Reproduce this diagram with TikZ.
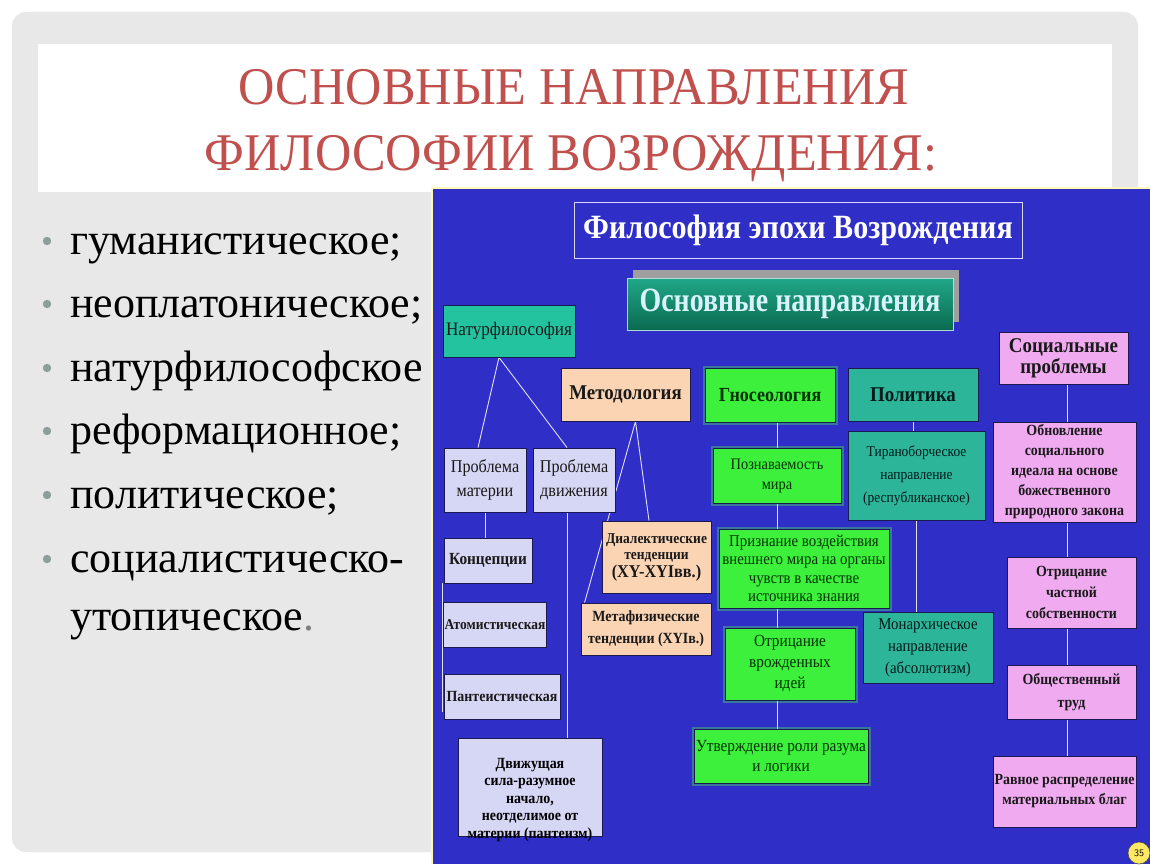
\documentclass[tikz,border=0pt]{standalone}
\usepackage{fontspec}
\setmainfont{Liberation Serif}
\newfontfamily\dgf[FakeStretch=0.9]{Liberation Serif}
\newfontfamily\ttlf[FakeStretch=0.95]{Liberation Serif}
\newfontfamily\hdf[FakeStretch=0.885]{Liberation Serif}
\newfontfamily\osf[FakeStretch=0.82]{Liberation Serif}
\usetikzlibrary{calc}
\definecolor{slidegray}{HTML}{E8E8E8}
\definecolor{titlered}{HTML}{C0504D}
\definecolor{panelblue}{HTML}{2F2FC8}
\definecolor{tealA}{HTML}{23C3A0}
\definecolor{tealB}{HTML}{2DB59A}
\definecolor{tealTop}{HTML}{20A888}
\definecolor{tealBot}{HTML}{0B6A50}
\definecolor{greenA}{HTML}{3CF03C}
\definecolor{peach}{HTML}{FBD4B4}
\definecolor{lav}{HTML}{D6D6F5}
\definecolor{pinkA}{HTML}{F0AAF0}
\definecolor{boxline}{HTML}{1A1A50}
\definecolor{bulletgray}{HTML}{8E9C9C}
\pgfdeclarelayer{back}
\pgfdeclarelayer{links}
\pgfsetlayers{back,links,main}
\newcommand\makenode[7][]{%
  \node[box,#1,minimum width={#5-#3},minimum height={#6-#4}] (#2) at ({(#3+#5)/2},{(#4+#6)/2}) {#7};}
\tikzset{
  box/.style={draw=boxline, line width=0.9pt, inner sep=1pt, align=center, text=black!90},
  tealbox/.style={fill=tealA},
  polbox/.style={fill=tealB, text=black!80!teal},
  grbox/.style={fill=greenA, text=black!80!green,
    preaction={draw=green!70!white, draw opacity=0.35, line width=5pt}},
  pebox/.style={fill=peach},
  lvbox/.style={fill=lav},
  pkbox/.style={fill=pinkA},
  conn/.style={draw=white!88!blue, line width=0.9pt},
  bul/.style={anchor=base west, inner sep=0, font=\fontsize{44}{48}\selectfont, text=black},
  fs/.style 2 args={font=\dgf\fontsize{#1}{#2}\selectfont},
  fb/.style 2 args={font=\dgf\bfseries\fontsize{#1}{#2}\selectfont},
}
\begin{document}
\begin{tikzpicture}[x=1pt,y=-1pt]
\useasboundingbox (0,0) rectangle (1150,864);
\begin{pgfonlayer}{back}
\fill[white] (0,0) rectangle (1150,864);
\fill[slidegray, rounded corners=14pt] (12,12) rectangle (1138,852);
\fill[white] (38,44) rectangle (1112,192);
\fill[panelblue] (432,188) rectangle (1150,864);
\draw[color=white!70!yellow, line width=1.2pt] (432,864) -- (432,188) -- (1150,188);
\end{pgfonlayer}

% title
\node[text=titlered, font=\ttlf\fontsize{53}{60}\selectfont, inner sep=0, anchor=base] (t1) at (574,105) {ОСНОВНЫЕ НАПРАВЛЕНИЯ};
\node[text=titlered, font=\ttlf\fontsize{53}{60}\selectfont, inner sep=0, anchor=base] (t2) at (571,170) {ФИЛОСОФИИ ВОЗРОЖДЕНИЯ:};

% bullets
\foreach \y/\t [count=\i] in {254/гуманистическое;, 317/неоплатоническое;, 381/натурфилософское, 444/реформационное;, 508/политическое;, 572/социалистическо-}{
  \fill[bulletgray] (47,\y-13) circle (4.2);
  \node[bul] (b\i) at (70,\y) {\t};
}
\node[bul] (b7) at (70,630) {утопическое\textcolor{gray}{.}};

% diagram header
\node[draw=white!85!blue, line width=0.9pt, fill=panelblue, minimum width=448, minimum height=56, inner sep=0,
  text=white, font=\hdf\bfseries\fontsize{34}{38}\selectfont] (phil) at (798,230) {Философия эпохи Возрождения};
\fill[gray!75] (633,270) rectangle (959,322);
\node[draw=white!70!teal, line width=0.8pt, top color=tealTop, bottom color=tealBot, minimum width=326, minimum height=52, inner sep=0,
  text=white!85!cyan, font=\osf\bfseries\fontsize{34}{38}\selectfont] (osn) at (790,304) {Основные направления};

% first row
\makenode[tealbox,fs={19}{22}]{natur}{443}{305}{575}{357}{Натурфилософия}
\makenode[pebox,fb={21}{24}]{metod}{561}{368}{690}{421}{Методология}
\makenode[grbox,fb={20}{24}]{gnos}{705}{368}{835}{422}{Гносеология}
\makenode[polbox,fb={21}{24}]{polit}{848}{368}{978}{421}{Политика}
\makenode[pkbox,fb={21}{21}]{soc}{999}{332}{1128}{384}{Социальные\\проблемы}

% natural philosophy
\makenode[lvbox,fs={18}{24}]{pmat}{444}{448}{526}{512}{Проблема\\материи}
\makenode[lvbox,fs={18}{24}]{pdv}{533}{448}{615}{512}{Проблема\\движения}
\makenode[lvbox,fb={17}{20}]{konc}{444}{538}{532}{583}{Концепции}
\makenode[lvbox,fb={15}{18}]{atom}{444}{602}{546}{647}{Атомистическая}
\makenode[lvbox,fb={15.5}{18}]{pant}{444}{674}{560}{719}{Пантеистическая}
\makenode[lvbox]{dvij}{458}{738}{602}{836}{}
\node[fb={15.5}{17.5}, align=center, inner sep=0] (dvijt) at ([yshift=-13]dvij.center) {Движущая\\сила-разумное\\начало,\\неотделимое от\\материи (пантеизм)};

% methodology
\makenode[pebox,fb={15}{16}]{dial}{602}{521}{711}{593}{Диалектические\\тенденции\\[2pt]{\fontsize{18}{21}\selectfont (XY-XYIвв.)}}
\makenode[pebox,fb={15.5}{22}]{metaf}{581}{603}{711}{655}{Метафизические\\тенденции (XYIв.)}

% gnoseology
\makenode[grbox,fs={16}{20}]{pozn}{713}{448}{841}{503}{Познаваемость\\мира}
\makenode[grbox,fs={16.5}{18.5}]{priz}{719}{529}{889}{608}{Признание воздействия\\внешнего мира на органы\\чувств в качестве\\источника знания}
\makenode[grbox,fs={17}{21}]{otr}{725}{628}{855}{700}{Отрицание\\врожденных\\идей}
\makenode[grbox,fs={17}{20}]{utv}{694}{729}{868}{783}{Утверждение роли разума\\и логики}

% politics
\makenode[polbox,fs={15}{23}]{tiran}{848}{431}{985}{520}{Тираноборческое\\направление\\(республиканское)}
\makenode[polbox,fs={16.5}{22}]{monar}{863}{612}{993}{683}{Монархическое\\направление\\(абсолютизм)}

% social
\makenode[pkbox,fb={15.5}{20}]{obn}{993}{422}{1136}{522}{Обновление\\социального\\идеала на основе\\божественного\\природного закона}
\makenode[pkbox,fb={15.5}{21}]{otrch}{1007}{557}{1136}{628}{Отрицание\\частной\\собственности}
\makenode[pkbox,fb={15.5}{23}]{obtr}{1007}{665}{1136}{719}{Общественный\\труд}
\makenode[pkbox,fb={15.5}{20}]{ravn}{993}{756}{1136}{827}{Равное распределение\\материальных благ}

% page number
\node[circle, fill=yellow!80!orange!60, draw=black!70, line width=0.6pt, inner sep=1pt, minimum size=22,
  font=\sffamily\fontsize{10}{10}\selectfont] (pg) at (1139,853) {35};

% connectors
\begin{pgfonlayer}{links}
\coordinate (napex) at ($(natur.south)+(-10,0)$);
\draw[conn] ($(pmat.north)+(-7,0)$) -- (napex) -- ($(pdv.north)+(-7,0)$);
\draw[conn] (pmat.south) -- (pmat.south |- konc.north);
\draw[conn] ($(konc.south west)+(-1,0)$) -- ($(pant.south west)+(-1,-7)$);
\coordinate (pdvb) at ($(pdv.south)+(-7,0)$);
\draw[conn] (pdvb) -- (pdvb |- dvij.north);
\coordinate (mapex) at ($(metod.south)+(10,0)$);
\draw[conn] ($(dial.north)+(-7.5,0)$) -- (mapex) -- ($(metaf.north west)+(4,0)$);
\coordinate (gx) at (pozn.north);
\draw[conn] (gnos.south -| gx) -- (gx);
\draw[conn] (pozn.south) -- (pozn.south |- priz.north);
\draw[conn] (priz.south -| gx) -- (otr.north -| gx);
\draw[conn] (otr.south -| gx) -- (utv.north -| gx);
\draw[conn] (polit.south) -- (polit.south |- tiran.north);
\draw[conn] (tiran.south) -- (tiran.south |- monar.north);
\coordinate (sx) at ($(soc.south)+(3.5,0)$);
\draw[conn] (sx) -- (sx |- obn.north);
\draw[conn] (obn.south -| sx) -- (otrch.north -| sx);
\draw[conn] (otrch.south -| sx) -- (obtr.north -| sx);
\draw[conn] (obtr.south -| sx) -- (ravn.north -| sx);
\end{pgfonlayer}
\end{tikzpicture}
\end{document}
